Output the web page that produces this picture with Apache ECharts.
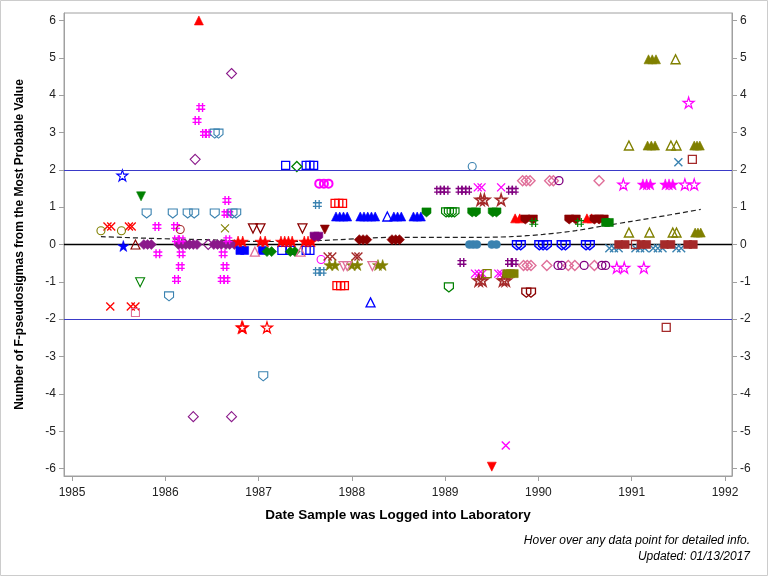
<!DOCTYPE html>
<html><head><meta charset="utf-8">
<script src="https://cdn.jsdelivr.net/npm/echarts@6/dist/echarts.min.js"></script>
<style>html,body{margin:0;padding:0;background:#fff}#c{width:768px;height:576px}</style>
</head><body><div id="c"></div>
<script>
const xTicks = [1985,1986,1987,1988,1989,1990,1991,1992];
const yTicks = [-6,-5,-4,-3,-2,-1,0,1,2,3,4,5,6];
const refLines = [2,-2];

const redTriUp = [[1986.36,6.0],[1989.75,0.70],[1989.80,0.70],[1990.52,0.70],[1990.57,0.70]];
const redTriDown = [[1989.50,-5.95]];
const purpleDiamondOpen = [[1986.71,4.58],[1986.32,2.28],[1986.30,-4.61],[1986.71,-4.61],[1986.46,0.0]];
const purpleDiamondFilled = [[1985.77,0],[1985.81,0],[1985.85,0],[1986.14,0],[1986.18,0],[1986.22,0],[1986.26,0],[1986.30,0],[1986.34,0],[1986.52,0],[1986.56,0],[1986.60,0],[1986.65,0],[1986.69,0],[1986.74,0]];
const magentaHash = [[1986.38,3.67],[1986.34,3.32],[1986.42,2.97],[1986.45,2.97],[1986.66,1.18],[1986.65,0.83],[1986.68,0.83],[1985.91,0.48],[1986.11,0.48],[1986.12,0.13],[1986.17,0.13],[1986.67,0.13],[1985.92,-0.25],[1986.17,-0.25],[1986.62,-0.25],[1986.16,-0.59],[1986.64,-0.59],[1986.12,-0.94],[1986.61,-0.94],[1986.65,-0.94]];
const steelShieldOpen = [[1986.53,2.97],[1986.57,2.97],[1985.80,0.83],[1986.08,0.83],[1986.24,0.83],[1986.31,0.83],[1986.53,0.83],[1986.72,0.83],[1986.76,0.83],[1986.04,-1.39],[1987.05,-3.53]];
const blueStarOpen = [[1985.54,1.85]];
const blueStarFilled = [[1985.55,-0.04]];
const redX = [[1985.38,0.48],[1985.42,0.48],[1985.61,0.48],[1985.64,0.48],[1985.41,-1.66],[1985.63,-1.66],[1985.68,-1.66]];
const oliveCircle = [[1985.31,0.37],[1985.53,0.37]];
const brownCircle = [[1986.16,0.40]];
const oliveX = [[1986.64,0.43]];
const darkredTriOpen = [[1985.68,0.0]];
const greenTriDownFilled = [[1985.74,1.29]];
const greenTriDownOpen = [[1985.73,-1.01]];
const pinkSquareOpen = [[1985.68,-1.82]];
const redStarFilled = [[1986.78,0.08],[1986.83,0.08],[1987.02,0.08],[1987.07,0.08],[1987.24,0.08],[1987.28,0.08],[1987.32,0.08],[1987.36,0.08],[1987.49,0.08],[1987.53,0.08],[1987.57,0.08]];
const redStarOpen = [[1986.82,-2.22],[1986.83,-2.22],[1987.09,-2.22]];
const blueSquareFilled = [[1986.80,-0.16],[1986.85,-0.16],[1987.04,-0.16]];
const blueSquareOpen = [[1987.25,-0.16],[1987.34,-0.16],[1987.51,-0.16],[1987.55,-0.16],[1987.29,2.12],[1987.51,2.12],[1987.55,2.12],[1987.59,2.12]];
const greenDiamondFilled = [[1987.09,-0.19],[1987.14,-0.19],[1987.34,-0.19],[1987.39,-0.19]];
const greenDiamondOpen = [[1987.41,2.09]];
const pinkTriOpen = [[1986.96,-0.19],[1987.45,-0.19]];
const darkredTriDownOpen = [[1986.94,0.43],[1987.02,0.43],[1987.47,0.43]];
const darkredTriDownFilled = [[1987.71,0.40]];
const purpleShieldFilled = [[1987.60,0.21],[1987.64,0.21]];
const magentaCircleBold = [[1987.65,1.63],[1987.70,1.63],[1987.75,1.63]];
const magentaCircleOpen = [[1987.67,-0.40]];
const steelHash = [[1987.63,1.07],[1987.63,-0.72],[1987.68,-0.72]];
const redSquareOpen = [[1987.82,1.10],[1987.86,1.10],[1987.90,1.10],[1987.84,-1.10],[1987.88,-1.10],[1987.92,-1.10]];
const blueTriFilled = [[1987.83,0.75],[1987.87,0.75],[1987.91,0.75],[1987.95,0.75],[1988.09,0.75],[1988.13,0.75],[1988.17,0.75],[1988.21,0.75],[1988.25,0.75],[1988.45,0.75],[1988.49,0.75],[1988.53,0.75],[1988.66,0.75],[1988.70,0.75],[1988.74,0.75]];
const blueTriOpen = [[1988.38,0.75],[1988.20,-1.55]];
const greenShieldFilled = [[1988.80,0.86],[1989.29,0.86],[1989.33,0.86],[1989.51,0.86],[1989.55,0.86]];
const greenShieldOpen = [[1989.01,0.86],[1989.04,0.86],[1989.07,0.86],[1989.10,0.86],[1989.04,-1.15]];
const darkredDiamondFilled = [[1988.08,0.13],[1988.12,0.13],[1988.16,0.13],[1988.43,0.13],[1988.47,0.13],[1988.51,0.13]];
const brownX = [[1987.74,-0.32],[1987.79,-0.32],[1988.04,-0.32],[1988.07,-0.32]];
const oliveStarFilled = [[1987.76,-0.55],[1987.82,-0.55],[1988.00,-0.55],[1988.06,-0.55],[1988.28,-0.55],[1988.33,-0.55]];
const pinkTriDownOpen = [[1987.91,-0.58],[1987.95,-0.58],[1988.22,-0.58]];
const purpleHash = [[1988.93,1.45],[1988.97,1.45],[1989.01,1.45],[1989.16,1.45],[1989.20,1.45],[1989.24,1.45],[1989.70,1.45],[1989.74,1.45],[1989.18,-0.48],[1989.69,-0.48],[1989.74,-0.48]];
const magentaX = [[1989.35,1.53],[1989.39,1.53],[1989.60,1.53],[1989.32,-0.78],[1989.36,-0.78],[1989.40,-0.78],[1989.57,-0.78],[1989.60,-0.78],[1989.65,-5.38]];
const brownStar = [[1989.38,1.20],[1989.42,1.20],[1989.60,1.20],[1989.36,-0.96],[1989.40,-0.96],[1989.62,-0.96],[1989.65,-0.96]];
const oliveSquareOpen = [[1989.45,-0.78]];
const oliveSquareFilled = [[1989.66,-0.78],[1989.70,-0.78],[1989.74,-0.78]];
const steelCircleFilled = [[1989.26,0],[1989.30,0],[1989.34,0],[1989.50,0],[1989.55,0]];
const steelCircleOpen = [[1989.29,2.09]];
const blueShieldOpen = [[1989.77,-0.02],[1989.81,-0.02],[1990.01,-0.02],[1990.05,-0.02],[1990.09,-0.02],[1990.25,-0.02],[1990.29,-0.02],[1990.51,-0.02],[1990.55,-0.02]];
const darkredShieldFilled = [[1989.86,0.67],[1989.94,0.67],[1990.33,0.67],[1990.40,0.67],[1990.60,0.67],[1990.65,0.67],[1990.70,0.67]];
const darkredShieldOpen = [[1989.87,-1.29],[1989.92,-1.29]];
const greenHash = [[1989.95,0.59],[1990.44,0.59]];
const greenSquareFilled = [[1990.72,0.59],[1990.76,0.59]];
const pinkDiamondOpen = [[1989.83,1.71],[1989.87,1.71],[1989.91,1.71],[1990.12,1.71],[1990.16,1.71],[1990.65,1.71],[1989.84,-0.56],[1989.88,-0.56],[1989.92,-0.56],[1990.09,-0.56],[1990.32,-0.56],[1990.39,-0.56],[1990.60,-0.56]];
const purpleCircleOpen = [[1990.22,1.71],[1990.21,-0.56],[1990.25,-0.56],[1990.49,-0.56],[1990.68,-0.56],[1990.72,-0.56]];
const oliveTriOpen = [[1991.47,4.96],[1990.97,2.65],[1991.42,2.65],[1991.48,2.65],[1990.97,0.32],[1991.19,0.32],[1991.44,0.32],[1991.48,0.32]];
const oliveTriFilled = [[1991.18,4.96],[1991.22,4.96],[1991.26,4.96],[1991.17,2.65],[1991.21,2.65],[1991.25,2.65],[1991.67,2.65],[1991.70,2.65],[1991.73,2.65],[1991.68,0.32],[1991.71,0.32],[1991.74,0.32]];
const magentaStarOpen = [[1991.61,3.80],[1990.91,1.61],[1991.57,1.61],[1991.67,1.61],[1990.84,-0.62],[1990.92,-0.62],[1991.13,-0.62]];
const magentaStarFilled = [[1991.12,1.61],[1991.16,1.61],[1991.20,1.61],[1991.36,1.61],[1991.40,1.61],[1991.44,1.61]];
const steelX = [[1990.76,-0.1],[1990.81,-0.1],[1990.86,-0.1],[1991.04,-0.1],[1991.09,-0.1],[1991.14,-0.1],[1991.23,-0.1],[1991.28,-0.1],[1991.33,-0.1],[1991.48,-0.1],[1991.53,-0.1],[1991.50,2.20]];
const brownSquareFilled = [[1990.86,0],[1990.93,0],[1991.10,0],[1991.16,0],[1991.35,0],[1991.42,0],[1991.60,0],[1991.66,0]];
const brownSquareOpen = [[1991.04,0],[1991.65,2.28],[1991.37,-2.22]];
const trend = [[1985.31,0.21],[1985.9,0.16],[1986.55,0.12],[1987.0,0.08],[1987.5,0.09],[1987.87,0.13],[1988.4,0.19],[1988.9,0.19],[1989.3,0.19],[1989.7,0.21],[1990.05,0.27],[1990.4,0.37],[1990.7,0.50],[1991.0,0.62],[1991.4,0.79],[1991.74,0.94]];

const C = {red:'#FF0000',magenta:'#FF00FF',purple:'#8B1A8B',blue:'#0000FF',steel:'#3A82B0',green:'#008000',darkred:'#8B0000',brown:'#A52A2A',olive:'#808000',pink:'#E0709A'};
const S = {
  circle:'circle', square:'rect', diamond:'diamond',
  tri:'path://M5,0 L10,9 L0,9 Z',
  triDown:'path://M0,0 L10,0 L5,9 Z',
  star:'path://M5,0 L6.18,3.62 L10,3.62 L6.91,5.85 L8.09,9.47 L5,7.24 L1.91,9.47 L3.09,5.85 L0,3.62 L3.82,3.62 Z',
  x:'path://M0,0 L10,10 M10,0 L0,10',
  hash:'path://M3,0 L3,10 M7,0 L7,10 M0,3 L10,3 M0,7 L10,7',
  shield:'path://M0,0 L10,0 L10,6 L5,10 L0,6 Z'
};
const SZ = {circle:8,square:8,diamond:10,tri:9,triDown:9,star:11,x:8,hash:9,shield:9};

function mk(data, shape, color, filled, bw){
  return {type:'scatter', data:data, symbol:S[shape], symbolSize:SZ[shape], silent:true,
    itemStyle: filled ? {color:color, borderColor:color, borderWidth:0.6, opacity:1}
                      : {color:'rgba(0,0,0,0)', borderColor:color, borderWidth:bw||1.1, opacity:1}};
}

const series = [
  {type:'line', data:[[1984.914,0],[1992.075,0]], symbol:'none', silent:true, lineStyle:{color:'#000',width:1.5}, z:1},
  {type:'line', data:trend, symbol:'none', smooth:0.3, silent:true, lineStyle:{color:'#222',width:1.2,type:[5,3]}, z:1},
  mk(purpleDiamondFilled,'diamond',C.purple,true),
  mk(purpleDiamondOpen,'diamond',C.purple,false),
  mk(magentaHash,'hash',C.magenta,false,1.4),
  mk(steelShieldOpen,'shield',C.steel,false),
  mk(blueStarOpen,'star',C.blue,false),
  mk(blueStarFilled,'star',C.blue,true),
  mk(redX,'x',C.red,false,1.3),
  mk(oliveCircle,'circle',C.olive,false),
  mk(brownCircle,'circle',C.brown,false),
  mk(oliveX,'x',C.olive,false),
  mk(darkredTriOpen,'tri',C.darkred,false),
  mk(greenTriDownFilled,'triDown',C.green,true),
  mk(greenTriDownOpen,'triDown',C.green,false),
  mk(pinkSquareOpen,'square',C.pink,false),
  mk(blueSquareFilled,'square',C.blue,true),
  mk(blueSquareOpen,'square',C.blue,false,1.3),
  mk(greenDiamondFilled,'diamond',C.green,true),
  mk(greenDiamondOpen,'diamond',C.green,false,1.3),
  mk(pinkTriOpen,'tri',C.pink,false,1.3),
  mk(redStarFilled,'star',C.red,true),
  mk(redStarOpen,'star',C.red,false,1.2),
  mk(darkredTriDownOpen,'triDown',C.darkred,false,1.3),
  mk(darkredTriDownFilled,'triDown',C.darkred,true),
  mk(purpleShieldFilled,'shield','#800080',true),
  mk(magentaCircleBold,'circle',C.magenta,false,2),
  mk(magentaCircleOpen,'circle',C.magenta,false),
  mk(steelHash,'hash',C.steel,false,1.3),
  mk(redSquareOpen,'square',C.red,false,1.3),
  mk(blueTriFilled,'tri',C.blue,true),
  mk(blueTriOpen,'tri',C.blue,false,1.3),
  mk(greenShieldFilled,'shield',C.green,true),
  mk(greenShieldOpen,'shield',C.green,false,1.2),
  mk(darkredDiamondFilled,'diamond',C.darkred,true),
  mk(brownX,'x',C.brown,false,1.4),
  mk(oliveStarFilled,'star',C.olive,true),
  mk(pinkTriDownOpen,'triDown',C.pink,false,1.3),
  mk(purpleHash,'hash','#800080',false,1.4),
  mk(magentaX,'x',C.magenta,false,1.4),
  mk(brownStar,'star',C.brown,false,1.6),
  mk(oliveSquareOpen,'square',C.olive,false,1.3),
  mk(oliveSquareFilled,'square',C.olive,true),
  mk(steelCircleFilled,'circle',C.steel,true),
  mk(steelCircleOpen,'circle',C.steel,false),
  mk(blueShieldOpen,'shield',C.blue,false,1.4),
  mk(redTriUp,'tri',C.red,true),
  mk(redTriDown,'triDown',C.red,true),
  mk(darkredShieldFilled,'shield',C.darkred,true),
  mk(darkredShieldOpen,'shield',C.darkred,false,1.3),
  mk(greenHash,'hash',C.green,false,1.2),
  mk(greenSquareFilled,'square',C.green,true),
  mk(pinkDiamondOpen,'diamond',C.pink,false,1.4),
  mk(purpleCircleOpen,'circle','#800080',false,1.3),
  mk(oliveTriOpen,'tri',C.olive,false,1.4),
  mk(oliveTriFilled,'tri',C.olive,true),
  mk(magentaStarOpen,'star',C.magenta,false,1.2),
  mk(magentaStarFilled,'star',C.magenta,true),
  mk(steelX,'x',C.steel,false,1.4),
  mk(brownSquareFilled,'square',C.brown,true),
  mk(brownSquareOpen,'square',C.brown,false,1.3)
];
series[0].markLine = {silent:true, symbol:'none', label:{show:false},
  lineStyle:{color:'#3A3AC8', width:1, type:'solid'},
  data: refLines.map(v => ({yAxis:v}))};

const FONT = '"Liberation Sans Narrow","Arial Narrow","Liberation Sans",Arial,sans-serif';
const fmt = v => String(v);
const yAxisBase = {
  type:'value', min:-6.2, max:6.2,
  axisLine:{show:true, lineStyle:{color:'#A0A0A0'}},
  axisTick:{show:true, customValues:yTicks, length:5, inside:false, lineStyle:{color:'#A0A0A0'}},
  axisLabel:{customValues:yTicks, formatter:fmt, fontFamily:FONT, fontSize:12, color:'#222', margin:8},
  splitLine:{show:false}
};
const chart = echarts.init(document.getElementById('c'), null, {renderer:'canvas'});
chart.setOption({
  animation:false,
  backgroundColor:'#fff',
  grid:{left:64, right:36, top:13, bottom:100, show:true, borderColor:'#A0A0A0', borderWidth:1, containLabel:false},
  xAxis:{type:'value', min:1984.914, max:1992.075,
    name:'Date Sample was Logged into Laboratory', nameLocation:'middle', nameGap:32,
    nameTextStyle:{fontFamily:FONT, fontWeight:'bold', fontSize:13.5, color:'#000'},
    axisLine:{show:true, onZero:false, lineStyle:{color:'#A0A0A0'}},
    axisTick:{show:true, customValues:xTicks, length:5, lineStyle:{color:'#A0A0A0'}},
    axisLabel:{customValues:xTicks, formatter:fmt, fontFamily:FONT, fontSize:12, color:'#222', margin:11},
    splitLine:{show:false}},
  yAxis:[
    Object.assign({}, yAxisBase, {position:'left',
      name:'Number of F-pseudosigmas from the Most Probable Value', nameLocation:'middle', nameGap:38,
      nameTextStyle:{fontFamily:FONT, fontWeight:'bold', fontSize:12, color:'#000'}}),
    Object.assign({}, yAxisBase, {position:'right'})
  ],
  graphic:[
    {type:'rect', shape:{x:0.5,y:0.5,width:767,height:575}, style:{fill:'none', stroke:'#CCCCCC', lineWidth:1}, silent:true},
    {type:'text', right:18, top:535, style:{text:'Hover over any data point for detailed info.', font:'italic 12px '+FONT, fill:'#000', textAlign:'right'}},
    {type:'text', right:18, top:551, style:{text:'Updated: 01/13/2017', font:'italic 12px '+FONT, fill:'#000', textAlign:'right'}}
  ],
  series: series
});
</script></body></html>
